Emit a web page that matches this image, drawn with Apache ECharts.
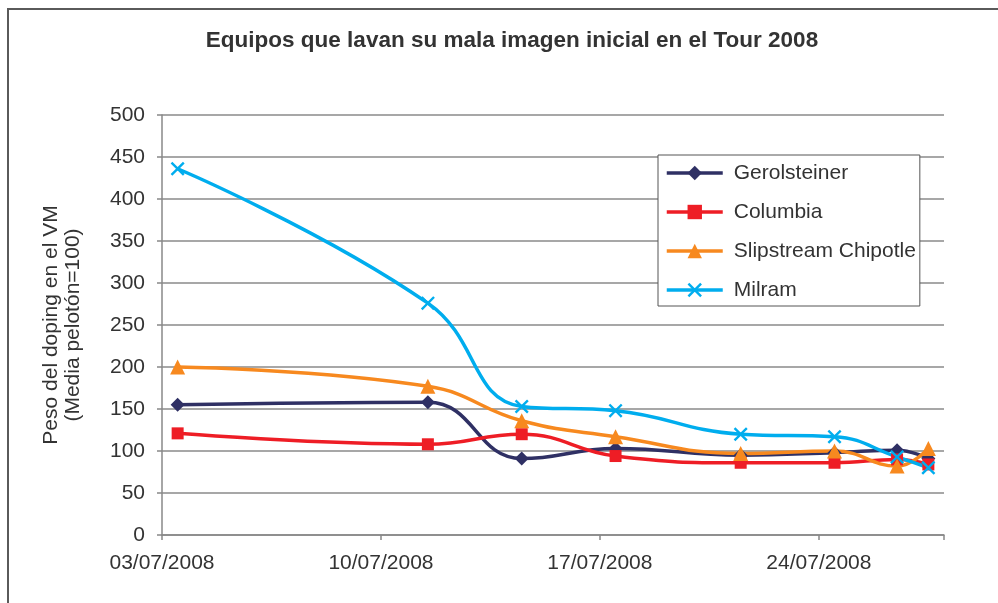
<!DOCTYPE html>
<html>
<head>
<meta charset="utf-8">
<title>Equipos que lavan su mala imagen inicial en el Tour 2008</title>
<script src="https://cdn.jsdelivr.net/npm/echarts@6/dist/echarts.min.js"></script>
<style>
  html, body { margin: 0; padding: 0; background: #fff; }
  #chart { width: 998px; height: 603px; }
</style>
</head>
<body>
<div id="chart"></div>
<script>
// fechas de las etapas y valores
var fechas = ['2008-07-03', '2008-07-11', '2008-07-14', '2008-07-17', '2008-07-21', '2008-07-24', '2008-07-26', '2008-07-27'];
var gerolsteiner = [155, 158, 91, 103, 95, 98, 101, 91];
var columbia = [121, 108, 120, 94, 86, 86, 90, 84];
var slipstream = [200, 177, 136, 117, 97, 100, 82, 103];
var milram = [436, 276, 153, 148, 120, 117, 93, 80];
var yTicks = [0, 50, 100, 150, 200, 250, 300, 350, 400, 450, 500];

var DIA = 86400000;
var inicio = Date.UTC(2008, 6, 3);

// dias desde el 03/07 (centrado en el dia, como en Excel)
function dia(s) {
    var p = s.split('-');
    return (Date.UTC(+p[0], +p[1] - 1, +p[2]) - inicio) / DIA + 0.5;
}
function pares(vals) {
    return vals.map(function (v, i) { return [dia(fechas[i]), v]; });
}
function fmtFecha(v) {
    var d = new Date(inicio + v * DIA);
    var dd = ('0' + d.getUTCDate()).slice(-2);
    var mm = ('0' + (d.getUTCMonth() + 1)).slice(-2);
    return dd + '/' + mm + '/' + d.getUTCFullYear();
}

var cruz = 'path://M0,1.2L1.2,0L5,3.8L8.8,0L10,1.2L6.2,5L10,8.8L8.8,10L5,6.2L1.2,10L0,8.8L3.8,5Z';
var fuente = '"Liberation Sans", Arial, sans-serif';

var myChart = echarts.init(document.getElementById('chart'));

function serie(nombre, datos, color, simbolo, tam) {
    return {
        name: nombre,
        type: 'line',
        smooth: 0.45,
        symbol: simbolo,
        symbolSize: tam,
        showAllSymbol: true,
        lineStyle: { color: color, width: 3.5 },
        itemStyle: { color: color },
        emphasis: { disabled: true },
        data: pares(datos)
    };
}

var option = {
    animation: false,
    backgroundColor: '#fff',
    textStyle: { fontFamily: fuente },
    title: {
        text: 'Equipos que lavan su mala imagen inicial en el Tour 2008',
        left: 512,
        textAlign: 'center',
        top: 29,
        padding: 0,
        textStyle: { fontSize: 22.5, fontWeight: 'bold', color: '#333', fontFamily: fuente }
    },
    graphic: [{
        type: 'rect',
        shape: { x: 8, y: 9, width: 1010, height: 620 },
        style: { fill: 'none', stroke: '#5a5a5a', lineWidth: 2 },
        silent: true
    }],
    legend: {
        orient: 'vertical',
        left: 658,
        top: 155,
        padding: [7, 4, 5, 7],
        itemWidth: 56,
        itemHeight: 18,
        itemGap: 17,
        borderColor: '#555',
        borderWidth: 1,
        backgroundColor: '#fff',
        lineStyle: { width: 3.5 },
        textStyle: { fontSize: 21, color: '#333', lineHeight: 22, padding: [0, 0, 0, 6], fontFamily: fuente },
        data: ['Gerolsteiner', 'Columbia', 'Slipstream Chipotle', 'Milram']
    },
    grid: { left: 162, right: 54, top: 115, bottom: 68 },
    xAxis: {
        type: 'value',
        min: 0,
        max: 25,
        interval: 7,
        axisLine: { show: true, lineStyle: { color: '#888', width: 1.5 } },
        axisTick: { show: true, length: 5, lineStyle: { color: '#888', width: 1.5 } },
        splitLine: { show: false },
        axisLabel: {
            margin: 18,
            fontSize: 21,
            color: '#333',
            fontFamily: fuente,
            formatter: function (v) { return v % 7 === 0 ? fmtFecha(v) : ''; }
        }
    },
    yAxis: {
        type: 'value',
        min: yTicks[0],
        max: yTicks[yTicks.length - 1],
        interval: 50,
        name: 'Peso del doping en el VM\n(Media pelotón=100)',
        nameLocation: 'middle',
        nameRotate: 90,
        nameGap: 78,
        nameTextStyle: { fontSize: 21, color: '#333', lineHeight: 22, fontFamily: fuente },
        axisLine: { show: true, lineStyle: { color: '#888', width: 1.5 } },
        axisTick: { show: true, length: 5, lineStyle: { color: '#888', width: 1.5 } },
        splitLine: { show: true, lineStyle: { color: '#8a8a8a', width: 1.5 } },
        axisLabel: { margin: 17, fontSize: 21, color: '#333', fontFamily: fuente }
    },
    series: [
        serie('Gerolsteiner', gerolsteiner, '#2f3064', 'diamond', 14),
        serie('Columbia', columbia, '#ee1d25', 'rect', 12),
        serie('Slipstream Chipotle', slipstream, '#f7891f', 'triangle', 15),
        serie('Milram', milram, '#00adee', cruz, 14)
    ]
};

myChart.setOption(option);
window.addEventListener('resize', function () {
    myChart.resize();
});
</script>
</body>
</html>
